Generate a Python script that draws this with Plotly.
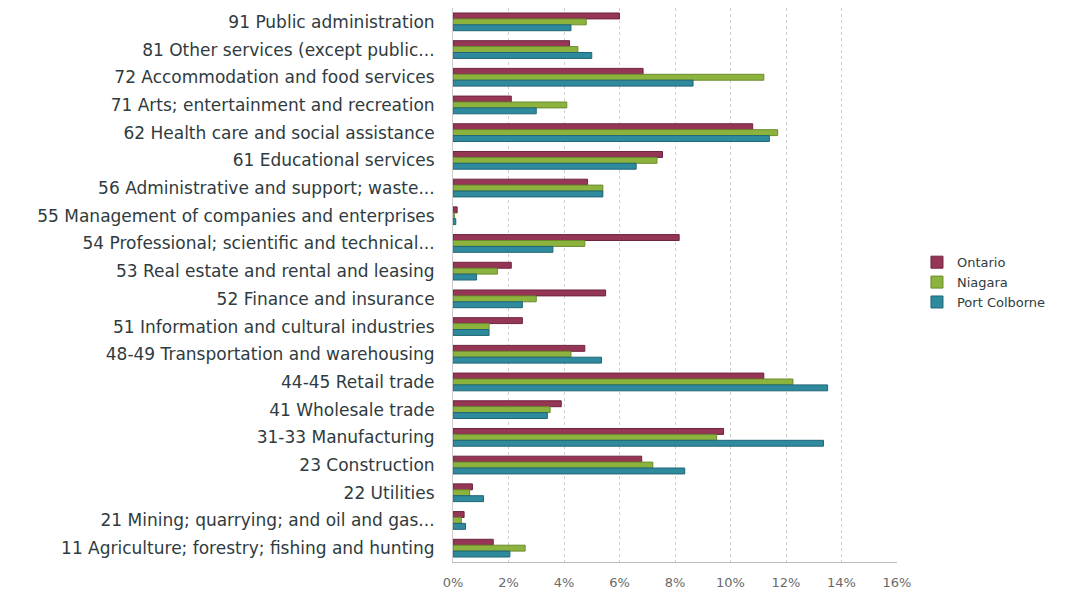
import plotly.graph_objects as go

industries = [
    "91 Public administration",
    "81 Other services (except public...",
    "72 Accommodation and food services",
    "71 Arts; entertainment and recreation",
    "62 Health care and social assistance",
    "61 Educational services",
    "56 Administrative and support; waste...",
    "55 Management of companies and enterprises",
    "54 Professional; scientific and technical...",
    "53 Real estate and rental and leasing",
    "52 Finance and insurance",
    "51 Information and cultural industries",
    "48-49 Transportation and warehousing",
    "44-45 Retail trade",
    "41 Wholesale trade",
    "31-33 Manufacturing",
    "23 Construction",
    "22 Utilities",
    "21 Mining; quarrying; and oil and gas...",
    "11 Agriculture; forestry; fishing and hunting",
]

ontario = [6.0, 4.2, 6.85, 2.1, 10.8, 7.55, 4.85, 0.15, 8.15, 2.1,
           5.5, 2.5, 4.75, 11.2, 3.9, 9.75, 6.8, 0.7, 0.4, 1.45]
niagara = [4.8, 4.5, 11.2, 4.1, 11.7, 7.35, 5.4, 0.05, 4.75, 1.6,
           3.0, 1.3, 4.25, 12.25, 3.5, 9.5, 7.2, 0.6, 0.3, 2.6]
port_colborne = [4.25, 5.0, 8.65, 3.0, 11.4, 6.6, 5.4, 0.1, 3.6, 0.85,
                 2.5, 1.3, 5.35, 13.5, 3.4, 13.35, 8.35, 1.1, 0.45, 2.05]

x_ticks = [0, 2, 4, 6, 8, 10, 12, 14, 16]

series = [
    ("Ontario", ontario, "#943654", "#6e2340"),
    ("Niagara", niagara, "#8db33f", "#6b8a2c"),
    ("Port Colborne", port_colborne, "#2f8a9e", "#1f6676"),
]

fig = go.Figure()
for name, vals, col, edge in series:
    fig.add_trace(go.Bar(
        y=industries, x=vals, name=name, orientation="h",
        marker=dict(color=col, line=dict(color=edge, width=1)),
    ))

fig.update_layout(
    width=1090, height=595,
    barmode="group", bargap=0.36, bargroupgap=0,
    plot_bgcolor="white", paper_bgcolor="white",
    margin=dict(l=445, r=201, t=0, b=41),
    font=dict(family="DejaVu Sans", color="#2f3b40"),
    legend=dict(x=1.045, y=0.505, xanchor="left", yanchor="middle",
                font=dict(size=13, color="#2f3b40"), itemwidth=30,
                tracegroupgap=4),
    xaxis=dict(range=[0, 16], tickvals=x_ticks,
               ticktext=[f"{t}%" for t in x_ticks],
               showgrid=True, gridcolor="#cfcfcf", griddash="dot",
               zeroline=False, showline=True, linecolor="#bbbbbb",
               tickfont=dict(size=13, color="#6a6a6a"), automargin=False,
               ticklabelstandoff=8),
    yaxis=dict(autorange="reversed", showgrid=False,
               tickfont=dict(size=17, color="#2f3b40"),
               ticks="", showline=True, linecolor="#cccccc",
               automargin=False, ticklabelstandoff=14),
)

fig.write_html("out.html")
